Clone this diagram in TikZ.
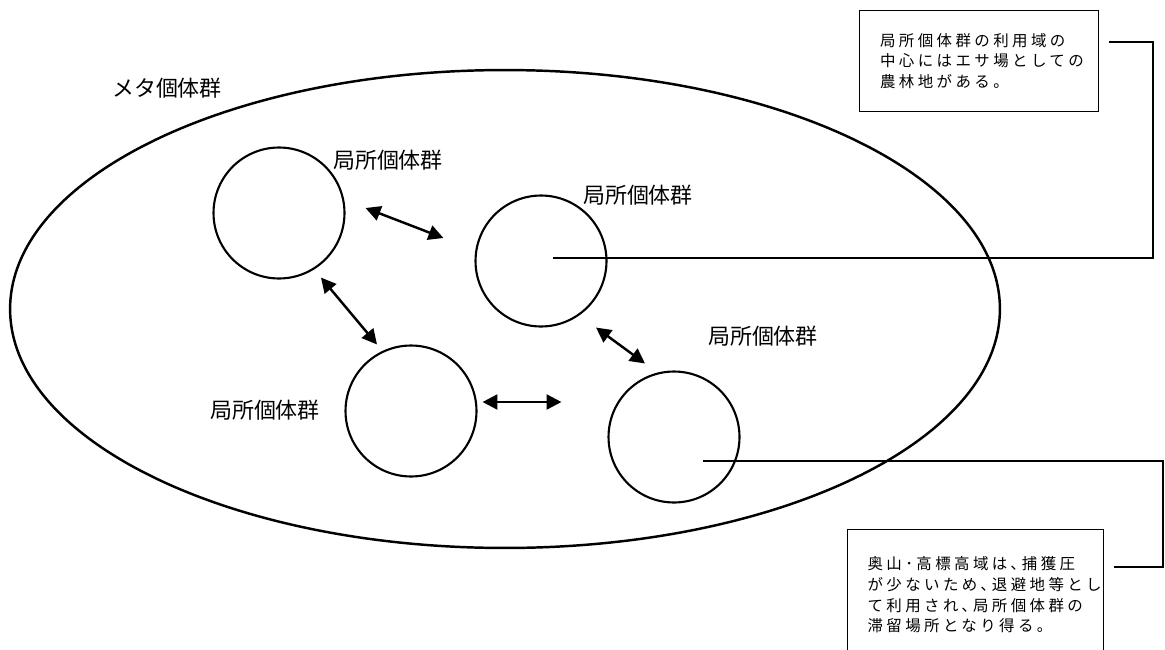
\documentclass[tikz,border=0pt]{standalone}
\usepackage{fontspec}
\newfontfamily\jp{Noto Sans CJK JP}
\newfontfamily\jpsp[LetterSpace=22]{Noto Sans CJK JP}
\usetikzlibrary{arrows.meta, shapes.geometric}

\begin{document}
\begin{tikzpicture}[
    x=0.02cm, y=-0.02cm,
    pop/.style={draw, circle, line width=1.2pt, minimum size=2.62cm, inner sep=0pt},
    lbl/.style={font=\jp\fontsize{12.5}{15}\selectfont, inner sep=0pt},
    note/.style={draw, line width=0.7pt, anchor=north west, align=left,
                 font=\jpsp\fontsize{8.8}{11.8}\selectfont},
    arr/.style={{Triangle[length=8.5pt,width=8.5pt]}-{Triangle[length=8.5pt,width=8.5pt]}, line width=1.4pt},
    lead/.style={line width=0.6pt}
]
\useasboundingbox (0,0) rectangle (1165,649);
\clip (0,0) rectangle (1165,649);

\node[draw, ellipse, line width=1.4pt, minimum width=19.8cm, minimum height=9.56cm, inner sep=0pt] (meta) at (505,309) {};
\node[lbl] (lmeta) at (167,88) {メタ個体群};

\node[pop] (c1) at (279,213) {};
\node[pop] (c2) at (541,261) {};
\node[pop] (c3) at (411,411) {};
\node[pop] (c4) at (674,437) {};

\node[lbl] (l1) at (388,160) {局所個体群};
\node[lbl] (l2) at (638,195) {局所個体群};
\node[lbl] (l3) at (265,410) {局所個体群};
\node[lbl] (l4) at (763,336) {局所個体群};

\draw[arr] ([shift={(20,-5)}]c1.east)   -- ([shift={(-31,-23)}]c2.west);
\draw[arr] ([shift={(42,-2)}]c1.south)  -- ([shift={(-34,0)}]c3.north);
\draw[arr] ([shift={(5,-9)}]c3.east)    -- ([shift={(-46,-35)}]c4.west);
\draw[arr] ([shift={(55,0)}]c2.south)   -- ([shift={(-29,-7)}]c4.north);

% notes
\node[note, minimum height=2.02cm, text width=3.96cm, inner xsep=0.41cm] (n1) at (859,10)
    {局所個体群の利用域の\\中心にはエサ場としての\\農林地がある。};
\node[note, text width=4.32cm, inner xsep=0.4cm, inner ysep=0.54cm] (n2) at (847,529)
    {奥山･高標高域は､捕獲圧\\が少ないため､退避地等とし\\て利用され､局所個体群の\\滞留場所となり得る。};

\draw[lead] ([shift={(12,-3)}]c2.center) -- ++(600,0) |- ([shift={(10,32)}]n1.north east);
\draw[lead] ([shift={(29,24)}]c4.center) -- ++(460,0) |- ([shift={(10,38)}]n2.north east);
\end{tikzpicture}
\end{document}
